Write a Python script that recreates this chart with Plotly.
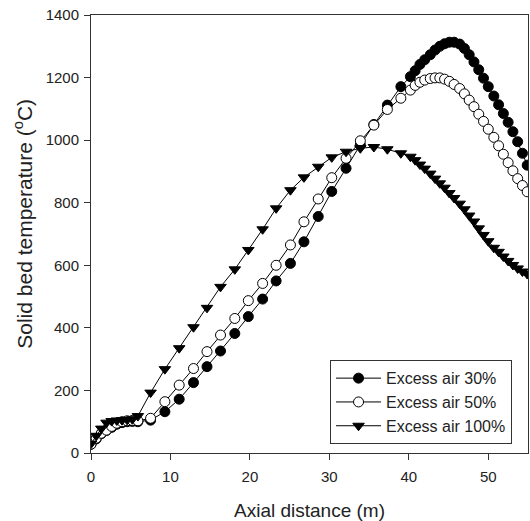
import plotly.graph_objects as go

# Axial distance (m)
x_dist = [0.0, 0.65, 1.3, 1.95, 2.6, 3.25, 3.9, 4.55, 5.2, 5.9,
          7.5, 9.3, 11.1, 12.9, 14.6, 16.3, 18.1, 19.8, 21.6, 23.3,
          25.1, 26.8, 28.6, 30.3, 32.1, 33.9, 35.6, 37.3, 39.0,
          40.2, 40.8, 41.4, 42.0, 42.7, 43.3, 43.9, 44.5, 45.1, 45.7,
          46.4, 47.0, 47.6, 48.2, 48.8, 49.4, 50.0, 50.7, 51.3, 51.9,
          52.5, 53.1, 53.7, 54.3, 54.9]

# Solid bed temperature (deg C)
temp_air30 = [28, 45, 62, 72, 82, 92, 97, 100, 101, 100,
              105, 132, 172, 225, 276, 326, 382, 436, 492, 550,
              606, 675, 756, 836, 910, 985, 1050, 1112, 1171,
              1203, 1222, 1242, 1257, 1273, 1288, 1300, 1308, 1313, 1313,
              1307, 1293, 1273, 1250, 1225, 1198, 1171, 1141, 1113, 1085,
              1057, 1027, 995, 958, 920]

temp_air50 = [28, 47, 63, 73, 85, 95, 100, 103, 104, 103,
              111, 164, 217, 270, 324, 377, 430, 487, 542, 600,
              665, 739, 812, 880, 942, 998, 1048, 1098, 1134,
              1160, 1175, 1185, 1192, 1197, 1199, 1199, 1195, 1188, 1178,
              1165, 1148, 1128, 1107, 1083, 1060, 1035, 1009, 982, 955,
              928, 902, 877, 855, 835]

temp_air100 = [30, 55, 78, 97, 102, 104, 105, 106, 108, 118,
               193, 268, 335, 402, 464, 531, 587, 649, 715, 782,
               840, 881, 915, 945, 963, 974, 978, 971, 958,
               947, 936, 922, 909, 893, 877, 862, 848, 831, 815,
               797, 779, 759, 740, 718, 697, 677, 656, 643, 628,
               614, 601, 590, 580, 572]

series_names = ["Excess air 30%", "Excess air 50%", "Excess air 100%"]
x_ticks = [0, 10, 20, 30, 40, 50]
y_ticks = [0, 200, 400, 600, 800, 1000, 1200, 1400]

FONT = "Arial, Liberation Sans, sans-serif"

fig = go.Figure()
fig.add_trace(go.Scatter(
    x=x_dist, y=temp_air30, name=series_names[0], mode="lines+markers",
    line=dict(color="black", width=1),
    marker=dict(symbol="circle", size=10, color="black",
                line=dict(color="black", width=1))))
fig.add_trace(go.Scatter(
    x=x_dist, y=temp_air50, name=series_names[1], mode="lines+markers",
    line=dict(color="black", width=1),
    marker=dict(symbol="circle", size=10, color="white",
                line=dict(color="black", width=1))))
fig.add_trace(go.Scatter(
    x=x_dist, y=temp_air100, name=series_names[2], mode="lines+markers",
    line=dict(color="black", width=1),
    marker=dict(symbol="triangle-down", size=10, color="black",
                line=dict(color="black", width=1))))

fig.update_layout(
    width=530, height=521,
    margin=dict(l=91, r=2, t=15, b=68, autoexpand=False),
    paper_bgcolor="white", plot_bgcolor="white",
    font=dict(family=FONT, color="#222222"),
    showlegend=True,
    legend=dict(
        x=0.547, y=0.02, xanchor="left", yanchor="bottom",
        bordercolor="#333333", borderwidth=1, bgcolor="white",
        font=dict(family=FONT, size=16, color="#222222"),
        tracegroupgap=0, itemwidth=45,
        entrywidth=140, entrywidthmode="pixels",
    ),
    annotations=[dict(
        text="Solid bed temperature (<sup>o</sup>C)",
        xref="paper", yref="paper", x=-0.156, y=0.523,
        xanchor="center", yanchor="middle", textangle=-90,
        showarrow=False,
        font=dict(family=FONT, size=21, color="#222222"),
    )],
)
fig.update_xaxes(
    range=[0, 55], tickvals=x_ticks, ticks="outside", ticklen=6,
    tickcolor="#333333", showline=True, linecolor="#333333", linewidth=1,
    mirror=True, showgrid=False, zeroline=False, ticklabelstandoff=4,
    tickfont=dict(family=FONT, size=15, color="#222222"),
    title=dict(text="Axial distance (m)", standoff=22,
               font=dict(family=FONT, size=19, color="#222222")),
)
fig.update_yaxes(
    range=[0, 1400], tickvals=y_ticks, ticks="outside", ticklen=6,
    tickcolor="#333333", showline=True, linecolor="#333333", linewidth=1,
    mirror=True, showgrid=False, zeroline=False, ticklabelstandoff=2,
    tickfont=dict(family=FONT, size=15, color="#222222"),
)

# remove the browser's default 8px body margin so the figure fills the window
fig.write_html("out.html",
               config={"displayModeBar": False},
               post_script="document.body.style.margin='0';"
                           "document.body.style.overflow='hidden';")
